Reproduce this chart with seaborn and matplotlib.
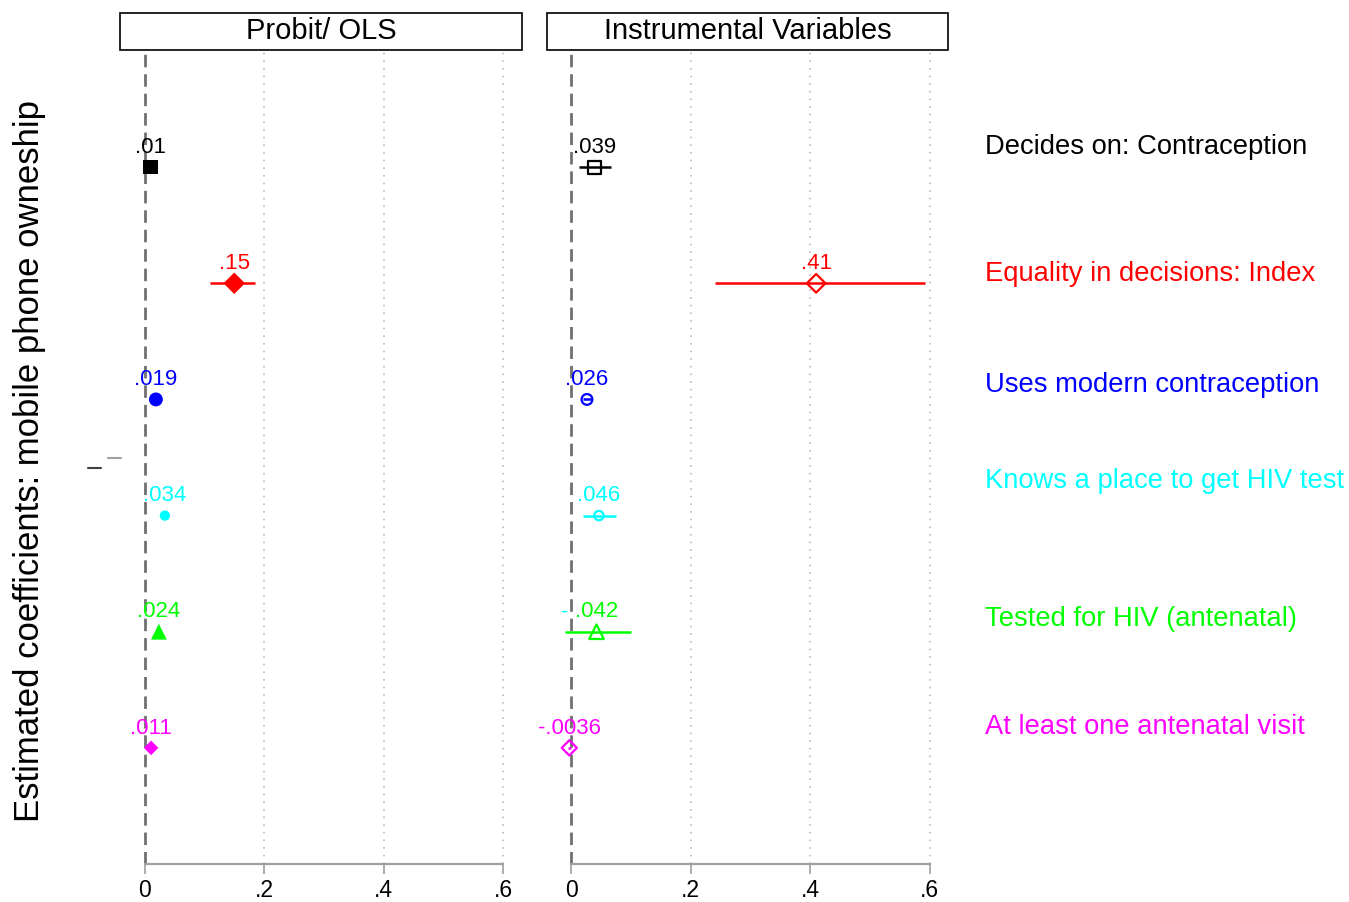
import numpy as np
import pandas as pd
import matplotlib
matplotlib.use("Agg")
import matplotlib.pyplot as plt
import seaborn as sns
from matplotlib.patches import Rectangle
from matplotlib.lines import Line2D

# outcomes and colours
outcomes = ["Decides on: Contraception", "Equality in decisions: Index",
            "Uses modern contraception", "Knows a place to get HIV test",
            "Tested for HIV (antenatal)", "At least one antenatal visit"]
colors = ["#000000", "#FF0000", "#0000FF", "#00FFFF", "#00FF00", "#FF00FF"]
marker_list = ["s", "D", "o", "o", "^", "D"]

# Probit / OLS estimates
ols_coef = [0.01, 0.15, 0.019, 0.034, 0.024, 0.011]
ols_lo = [0.008, 0.109, 0.016, 0.031, 0.020, 0.009]
ols_hi = [0.012, 0.184, 0.022, 0.037, 0.028, 0.013]
ols_lab = [".01", ".15", ".019", ".034", ".024", ".011"]

# IV estimates
iv_coef = [0.039, 0.41, 0.026, 0.046, 0.042, -0.0036]
iv_lo = [0.013, 0.241, 0.020, 0.020, -0.010, -0.006]
iv_hi = [0.067, 0.592, 0.032, 0.074, 0.099, -0.001]
iv_lab = [".039", ".41", ".026", ".046", ".042", "-.0036"]

panel_titles = ["Probit/ OLS", "Instrumental Variables"]
ylabel = "Estimated coefficients: mobile phone owneship"
xticks = [0, 0.2, 0.4, 0.6]
xticklabels = ["0", ".2", ".4", ".6"]

sns.set_style("white")
plt.rcParams['font.family'] = ['Liberation Sans', 'DejaVu Sans']
plt.rcParams['text.color'] = 'black'
plt.rcParams['xtick.color'] = 'black'

W, H = 1349, 903
fig = plt.figure(figsize=(W / 100, H / 100), dpi=100)

def px_ax(x0, x1, y0, y1):
    return fig.add_axes([x0 / W, 1 - y1 / H, (x1 - x0) / W, (y1 - y0) / H])

ax1 = px_ax(120, 522, 52, 865)
ax2 = px_ax(547, 948, 52, 865)

rows = np.arange(1, 7)
filled_sizes = dict(zip(outcomes, [110, 120, 100, 55, 130, 55]))
hollow_sizes = dict(zip(outcomes, [85, 90, 60, 45, 110, 60]))

panels = [(ax1, ols_coef, ols_lo, ols_hi, ols_lab, filled_sizes, True),
          (ax2, iv_coef, iv_lo, iv_hi, iv_lab, hollow_sizes, False)]

for ax, coef, lo, hi, lab, sizes, filled in panels:
    df = pd.DataFrame({"outcome": outcomes, "row": rows, "coef": coef,
                       "lo": lo, "hi": hi, "lab": lab})
    # reference line and grid
    ax.axvline(0, color="#707070", lw=2, ls=(0, (4.5, 2.5)), zorder=1)
    for xv in [0.2, 0.4, 0.6]:
        ax.axvline(xv, color="#b0b0b0", lw=1.1, ls=(0, (1, 4)), zorder=0)
    ax.hlines(df["row"], df["lo"], df["hi"], colors=colors, lw=1.8, zorder=2)
    sns.scatterplot(data=df, x="coef", y="row", hue="outcome", style="outcome",
                    size="outcome", hue_order=outcomes, style_order=outcomes,
                    size_order=outcomes, palette=colors,
                    markers=dict(zip(outcomes, marker_list)), sizes=sizes,
                    linewidth=0 if filled else 1.6, legend=False, ax=ax, zorder=3)
    if not filled:
        coll = ax.collections[-1]
        fc = coll.get_facecolor()
        coll.set_edgecolor(fc)
        coll.set_facecolor("none")
    for i, r in df.iterrows():
        ax.annotate(r["lab"], (r["coef"], r["row"]), xytext=(0, 11),
                    textcoords="offset points", ha="center", va="baseline",
                    fontsize=16, color=colors[i])
    ax.set_xlim(-0.041, 0.631)
    ax.set_ylim(7.0, 0.0)
    ax.set_yticks([])
    ax.set_xticks(xticks)
    ax.set_xticklabels(xticklabels, fontsize=16.5, color="black")
    for s in ["top", "right", "left"]:
        ax.spines[s].set_visible(False)
    ax.spines["bottom"].set_bounds(0, 0.6)
    ax.spines["bottom"].set_color("#a0a0a0")
    ax.spines["bottom"].set_linewidth(1.6)
    ax.tick_params(axis="x", direction="out", length=7, width=1.2,
                   color="#a0a0a0", labelcolor="black", pad=3, bottom=True)
    ax.set_xlabel("")
    ax.set_ylabel("")

# stray cyan fragment beside .042
ax2.annotate("-", (-0.011, 5), xytext=(0, 11), textcoords="offset points",
             ha="center", va="baseline", fontsize=16, color="#00FFFF")

# panel title boxes
for (x0, x1), t in zip([(120, 522), (547, 948)], panel_titles):
    fig.patches.append(Rectangle((x0 / W, 1 - 51 / H), (x1 - x0) / W, 37 / H,
                                 transform=fig.transFigure, fill=False,
                                 edgecolor="black", lw=1.2))
    fig.text((x0 + x1) / 2 / W, 1 - 31 / H, t, ha="center", va="center",
             fontsize=21, color="black")

# outcome labels on the right
label_y = [147, 274, 385, 481, 619, 727]
for t, c, yy in zip(outcomes, colors, label_y):
    fig.text(985 / W, 1 - yy / H, t, ha="left", va="center", fontsize=19.7,
             color=c)

fig.text(30 / W, 1 - 461 / H, ylabel, rotation=90, ha="center", va="center",
         fontsize=25, color="black")

# small stray ticks at left
fig.lines.append(Line2D([88 / W, 101 / W], [1 - 469 / H, 1 - 469 / H],
                        transform=fig.transFigure, color="#404040", lw=1.5))
fig.lines.append(Line2D([108 / W, 121 / W], [1 - 459 / H, 1 - 459 / H],
                        transform=fig.transFigure, color="#a0a0a0", lw=1.5))

fig.savefig("out.png", dpi=100, facecolor="white")
